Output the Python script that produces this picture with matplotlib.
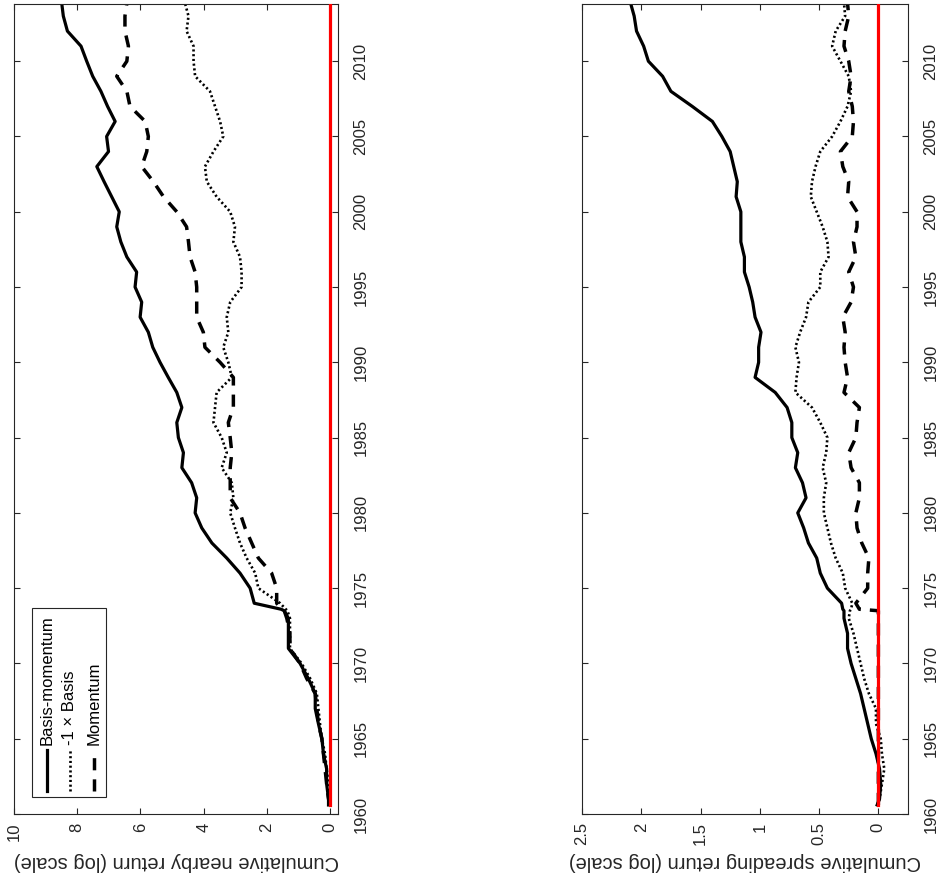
import numpy as np
import matplotlib
matplotlib.use("Agg")
import matplotlib.pyplot as plt
from matplotlib.patches import Rectangle
from matplotlib.lines import Line2D

# Data (x = year, y = cumulative log return); chart is drawn rotated 90 deg CCW
years = [1960.6, 1961, 1962, 1963, 1964, 1965, 1966, 1967, 1968, 1969, 1970,
         1971, 1972, 1973, 1973.5, 1973.6, 1974, 1975, 1976, 1977, 1978, 1979,
         1980, 1981, 1982, 1983, 1984, 1985, 1986, 1987, 1988, 1989, 1990,
         1991, 1992, 1993, 1994, 1995, 1996, 1997, 1998, 1999, 2000, 2001,
         2002, 2003, 2004, 2005, 2006, 2007, 2008, 2009, 2010, 2011, 2012,
         2013, 2013.85]

bm_nearby = [0.05, 0.05, 0.11, 0.11, 0.21, 0.26, 0.37, 0.47, 0.47, 0.69, 0.95,
             1.32, 1.32, 1.32, 1.45, 1.55, 2.40, 2.53, 2.85, 3.27, 3.74, 4.06,
             4.27, 4.22, 4.38, 4.69, 4.64, 4.80, 4.85, 4.69, 4.85, 5.12, 5.38,
             5.61, 5.75, 6.01, 5.96, 6.17, 6.12, 6.43, 6.62, 6.75, 6.67, 6.91,
             7.15, 7.38, 7.01, 7.07, 6.80, 7.04, 7.25, 7.51, 7.70, 7.88, 8.31,
             8.44, 8.49]
basis_nearby = [0.05, 0.0, 0.05, 0.11, 0.16, 0.26, 0.32, 0.37, 0.42, 0.63, 0.90,
                1.27, 1.27, 1.27, 1.35, 1.40, 1.58, 2.27, 2.37, 2.64, 2.85, 3.01,
                3.16, 3.06, 3.11, 3.43, 3.27, 3.43, 3.69, 3.64, 3.59, 3.11, 3.22,
                3.38, 3.22, 3.27, 3.16, 2.80, 2.80, 2.85, 3.06, 3.01, 3.16, 3.59,
                3.90, 3.96, 3.69, 3.38, 3.48, 3.64, 3.80, 4.27, 4.32, 4.32, 4.54,
                4.48, 4.59]
mom_nearby = [0.0, 0.05, 0.11, 0.16, 0.21, 0.26, 0.37, 0.42, 0.47, 0.74, 0.95,
              1.27, 1.27, 1.37, 1.45, 1.53, 1.69, 1.69, 1.85, 2.27, 2.48, 2.69,
              2.85, 3.16, 3.16, 3.16, 3.11, 3.16, 3.22, 3.06, 3.06, 3.06, 3.48,
              3.96, 4.01, 4.22, 4.22, 4.22, 4.27, 4.43, 4.48, 4.54, 4.85, 5.27,
              5.59, 5.96, 5.80, 5.75, 5.85, 6.33, 6.43, 6.75, 6.43, 6.38, 6.49,
              6.49, 6.43]

bm_spread = [0.01, -0.01, -0.02, -0.01, 0.02, 0.06, 0.09, 0.12, 0.15, 0.19, 0.23,
             0.26, 0.26, 0.29, 0.29, 0.30, 0.31, 0.43, 0.49, 0.52, 0.59, 0.63,
             0.68, 0.61, 0.64, 0.70, 0.68, 0.73, 0.73, 0.77, 0.87, 1.04, 1.01,
             1.01, 0.99, 1.04, 1.06, 1.09, 1.13, 1.13, 1.16, 1.16, 1.16, 1.20,
             1.19, 1.22, 1.25, 1.32, 1.40, 1.57, 1.75, 1.82, 1.94, 1.98, 2.04,
             2.06, 2.09]
basis_spread = [0.01, -0.01, -0.03, -0.05, -0.03, -0.02, 0.02, 0.02, 0.08, 0.12, 0.15,
                0.18, 0.21, 0.25, 0.24, 0.23, 0.22, 0.28, 0.30, 0.36, 0.40, 0.43,
                0.46, 0.46, 0.44, 0.47, 0.44, 0.43, 0.49, 0.56, 0.70, 0.69, 0.67,
                0.70, 0.66, 0.61, 0.59, 0.49, 0.49, 0.42, 0.43, 0.47, 0.52, 0.57,
                0.56, 0.53, 0.49, 0.39, 0.32, 0.26, 0.23, 0.25, 0.32, 0.39, 0.36,
                0.28, 0.29]
mom_spread = [0.0, 0.0, 0.0, 0.0, 0.0, 0.0, 0.0, 0.0, 0.0, 0.0, 0.0,
              0.0, 0.0, 0.0, 0.0, 0.16, 0.19, 0.09, 0.09, 0.08, 0.14, 0.18,
              0.19, 0.16, 0.16, 0.23, 0.25, 0.19, 0.18, 0.16, 0.29, 0.26, 0.28,
              0.29, 0.28, 0.30, 0.23, 0.21, 0.25, 0.19, 0.21, 0.18, 0.18, 0.26,
              0.25, 0.30, 0.32, 0.22, 0.21, 0.22, 0.25, 0.23, 0.25, 0.29, 0.28,
              0.25, 0.26]

labels = ["Basis-momentum", "-1 \u00d7 Basis", "Momentum"]
ylabels = ["Cumulative nearby return (log scale)", "Cumulative spreading return (log scale)"]
year_ticks = [1960, 1965, 1970, 1975, 1980, 1985, 1990, 1995, 2000, 2005, 2010]

W, H = 939, 877
plt.rcParams.update({
    'font.family': ['Liberation Sans', 'DejaVu Sans'],
    'font.size': 12,
})
GRAY = '0.15'

fig = plt.figure(figsize=(W / 100, H / 100), dpi=100)


def px(x0, y0, x1, y1):
    return [x0 / W, 1 - y1 / H, (x1 - x0) / W, (y1 - y0) / H]


styles = [dict(color='black', lw=2.3, ls='-'),
          dict(color='black', lw=1.9, ls=(0, (0.8, 1.0))),
          dict(color='black', lw=2.5, ls=(0, (3.5, 2.6)))]

panels = [
    (px(14, 4, 338, 814), [bm_nearby, basis_nearby, mom_nearby], (10, -0.25),
     [0, 2, 4, 6, 8, 10], ['0', '2', '4', '6', '8', '10'], 176),
    (px(582, 4, 908, 814), [bm_spread, basis_spread, mom_spread], (2.5, -0.25),
     [0, 0.5, 1, 1.5, 2, 2.5], ['0', '0.5', '1', '1.5', '2', '2.5'], 745),
]

yr = np.array(years)
for i, (rect, series, xlim, xt, xtl, xc) in enumerate(panels):
    ax = fig.add_axes(rect)
    for s, st in zip(series, styles):
        ax.plot(s, yr, **st)
    ax.plot(np.zeros_like(yr), yr, color='#ff0000', lw=2.3, zorder=5)
    ax.set_xlim(*xlim)
    ax.set_ylim(1960, 2013.8)
    ax.set_xticks(xt)
    ax.set_xticklabels(xtl, rotation=90)
    ax.set_yticks(year_ticks)
    ax.set_yticklabels([str(y) for y in year_ticks], rotation=90, va='center')
    ax.yaxis.tick_right()
    ax.tick_params(axis='both', direction='in', length=4, width=0.8, colors=GRAY,
                   top=True, bottom=True, left=True, right=True, labelsize=12)
    ax.tick_params(axis='x', pad=6)
    ax.tick_params(axis='y', pad=11)
    for sp in ax.spines.values():
        sp.set_color(GRAY)
        sp.set_linewidth(0.8)
    fig.text(xc / W, 1 - 861 / H, ylabels[i], rotation=180, ha='center',
             va='center', color=GRAY, fontsize=14.5)

# legend drawn by hand (rotated like the rest of the chart)
fig.patches.append(Rectangle((32 / W, 1 - 797 / H), 74 / W, 189 / H,
                             transform=fig.transFigure, facecolor='white',
                             edgecolor=GRAY, lw=0.8, zorder=10))
for xpos, lab, st in zip([47, 70, 94], labels, styles):
    fig.lines.append(Line2D([xpos / W, xpos / W], [1 - 791 / H, 1 - 750 / H],
                            transform=fig.transFigure, zorder=11, **st))
    fig.text(xpos / W, 1 - 745 / H, lab, rotation=90, ha='center', va='bottom',
             fontsize=12, color='black', zorder=12)

fig.savefig('out.png', dpi=100)
